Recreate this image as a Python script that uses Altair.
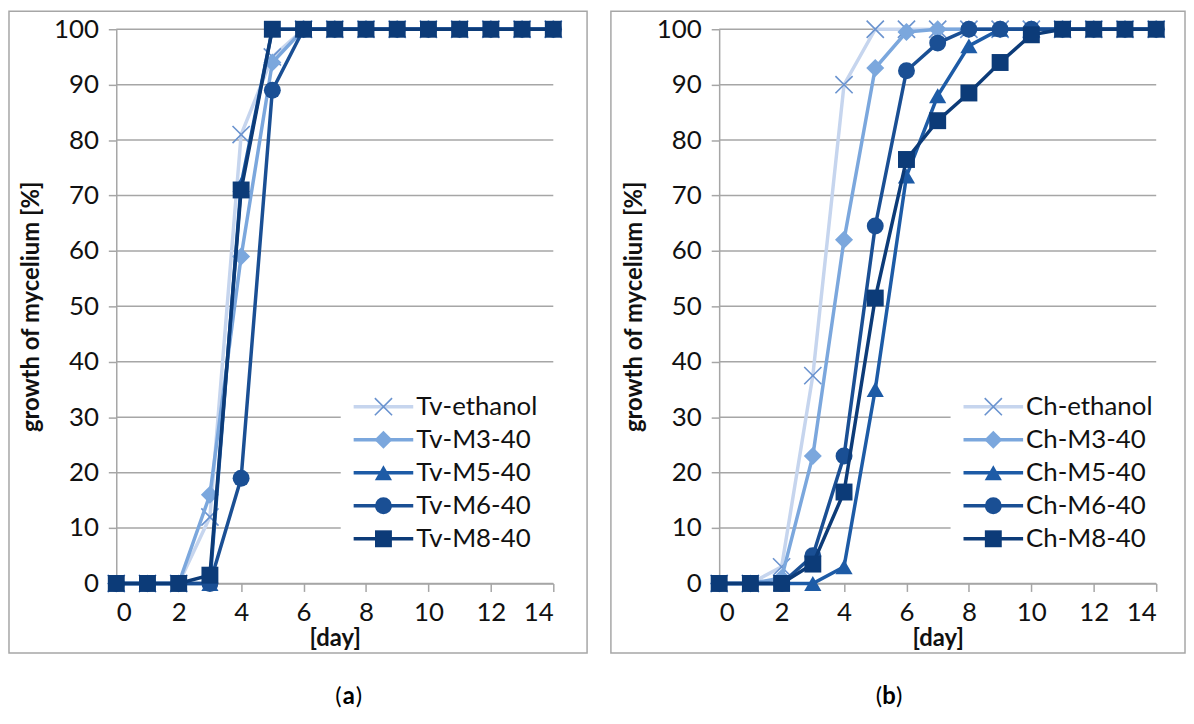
import altair as alt
import pandas as pd

days = list(range(15))

tv_names = ["Tv-ethanol", "Tv-M3-40", "Tv-M5-40", "Tv-M6-40", "Tv-M8-40"]
tv_ethanol = [0, 0, 0, 12, 81, 95, 100, 100, 100, 100, 100, 100, 100, 100, 100]
tv_m3 = [0, 0, 0, 16, 59, 94, 100, 100, 100, 100, 100, 100, 100, 100, 100]
tv_m5 = [0, 0, 0, 0, 72, 100, 100, 100, 100, 100, 100, 100, 100, 100, 100]
tv_m6 = [0, 0, 0, 0, 19, 89, 100, 100, 100, 100, 100, 100, 100, 100, 100]
tv_m8 = [0, 0, 0, 1.5, 71, 100, 100, 100, 100, 100, 100, 100, 100, 100, 100]

ch_names = ["Ch-ethanol", "Ch-M3-40", "Ch-M5-40", "Ch-M6-40", "Ch-M8-40"]
ch_ethanol = [0, 0, 3, 37.5, 90, 100, 100, 100, 100, 100, 100, 100, 100, 100, 100]
ch_m3 = [0, 0, 1, 23, 62, 93, 99.5, 100, 100, 100, 100, 100, 100, 100, 100]
ch_m5 = [0, 0, 0, 0, 3, 35, 73.5, 88, 97, 100, 100, 100, 100, 100, 100]
ch_m6 = [0, 0, 0, 5, 23, 64.5, 92.5, 97.5, 100, 100, 100, 100, 100, 100, 100]
ch_m8 = [0, 0, 0, 3.5, 16.5, 51.5, 76.5, 83.5, 88.5, 94, 99, 100, 100, 100, 100]

x_ticks = [0, 2, 4, 6, 8, 10, 12, 14]
y_ticks = [0, 10, 20, 30, 40, 50, 60, 70, 80, 90, 100]

# styles
FONT = "Lato"
GRID = "#a6a6a6"
line_colors = ["#c6d5ee", "#7ba7dd", "#1d5ba6", "#1a4f94", "#0c3b78"]
marker_colors = ["#6a93cf", "#7ba7dd", "#1d5ba6", "#1a4f94", "#0c3b78"]
CROSS = "M-1,-1L1,1M-1,1L1,-1"
shapes = [CROSS, "diamond", "triangle-up", "circle", "square"]
sizes = [300, 330, 300, 290, 290]
W, H = 440, 558
LABEL_FS = 26


def panel(names, series, leg_x, box, caption_x, caption):
    X = alt.X("day:Q", scale=alt.Scale(domain=[0, 14], nice=False, zero=False),
              axis=alt.Axis(values=x_ticks, title="[day]", grid=False))
    YS = alt.Scale(domain=[0, 100], nice=False)
    YA = alt.Axis(values=y_ticks, title="growth of mycelium [%]", grid=False)
    Y = alt.Y("value:Q", scale=YS, axis=YA)
    one = pd.DataFrame({"t": [caption]})

    data_layers = []
    for i, (name, vals) in enumerate(zip(names, series)):
        d = pd.DataFrame({"day": days, "value": vals, "series": name})
        base = alt.Chart(d)
        data_layers.append(base.mark_line(color=line_colors[i], strokeWidth=3.5).encode(x=X, y=Y))
        if i == 0:
            pts = base.mark_point(shape=shapes[i], filled=False, color=marker_colors[i],
                                  size=sizes[i], strokeWidth=1.6, opacity=1)
        else:
            pts = base.mark_point(shape=shapes[i], filled=True, color=marker_colors[i],
                                  size=sizes[i], opacity=1)
        data_layers.append(pts.encode(x=X, y=Y))

    # horizontal gridlines; those behind the legend stop at its left edge
    gdf = pd.DataFrame({"value": y_ticks})
    grid_full = alt.Chart(gdf).transform_filter(
        (alt.datum.value > 35) | (alt.datum.value < 5)).mark_rule(
        color=GRID, strokeWidth=1.5).encode(y=Y, x=alt.value(0), x2=alt.value(W))
    grid_short = alt.Chart(gdf).transform_filter(
        (alt.datum.value < 35) & (alt.datum.value > 5)).mark_rule(
        color=GRID, strokeWidth=1.5).encode(y=Y, x=alt.value(0), x2=alt.value(leg_x - 13))

    data_chart = alt.layer(grid_full, grid_short, *data_layers)

    leg_df = pd.DataFrame({"series": names})
    LY = alt.Y("series:N", scale=alt.Scale(type="point", domain=names, range=[380, 513], padding=0),
               axis=None)
    leg_layers = []
    for i, name in enumerate(names):
        b = alt.Chart(leg_df).transform_filter(alt.datum.series == name)
        leg_layers.append(b.mark_rule(color=line_colors[i], strokeWidth=3.5).encode(
            x=alt.value(leg_x), x2=alt.value(leg_x + 60), y=LY))
        if i == 0:
            p = b.mark_point(shape=shapes[i], filled=False, color=marker_colors[i],
                             size=sizes[i], strokeWidth=1.6, opacity=1)
        else:
            p = b.mark_point(shape=shapes[i], filled=True, color=marker_colors[i],
                             size=sizes[i], opacity=1)
        leg_layers.append(p.encode(x=alt.value(leg_x + 30), y=LY))
        leg_layers.append(b.mark_text(align="left", baseline="middle", font=FONT, fontSize=LABEL_FS,
                                      color="#111111").encode(
            x=alt.value(leg_x + 63), y=LY, text="series:N"))
    leg_chart = alt.layer(*leg_layers)

    border = alt.Chart(one).mark_rect(fillOpacity=0, stroke="#a6a6a6", strokeWidth=1.5).encode(
        x=alt.value(box[0]), x2=alt.value(box[1]), y=alt.value(box[2]), y2=alt.value(box[3]))
    cap_y = box[3] + 44
    cap_a = alt.Chart(one).mark_text(font=FONT, fontSize=24, fontWeight="bold", color="#000000",
                                     align="center", baseline="middle").encode(
        x=alt.value(caption_x), y=alt.value(cap_y), text="t:N")
    cap_l = alt.Chart(one).mark_text(font=FONT, fontSize=24, color="#000000",
                                     align="right", baseline="middle", text="(").encode(
        x=alt.value(caption_x - 7), y=alt.value(cap_y))
    cap_r = alt.Chart(one).mark_text(font=FONT, fontSize=24, color="#000000",
                                     align="left", baseline="middle", text=")").encode(
        x=alt.value(caption_x + 7), y=alt.value(cap_y))

    return alt.layer(border, data_chart, leg_chart, cap_l, cap_a, cap_r).resolve_scale(
        y="independent").properties(width=W, height=H)


left = panel(tv_names, [tv_ethanol, tv_m3, tv_m5, tv_m6, tv_m8], 239,
             (-108, 474, -18, 628), 234, "a")
right = panel(ch_names, [ch_ethanol, ch_m3, ch_m5, ch_m6, ch_m8], 246,
              (-109, 469, -18, 628), 171, "b")

chart = alt.hconcat(left, right, spacing=22).properties(padding=0).configure_view(
    stroke=None).configure_axis(
    labelFont=FONT, labelFontSize=LABEL_FS, labelColor="#111111",
    titleFont=FONT, titleFontSize=24, titleFontWeight="bold", titleColor="#111111",
    domainColor=GRID, domainWidth=1.5, tickColor=GRID, tickWidth=1.5, tickSize=8,
    labelPadding=10,
).configure_axisY(titlePadding=10).configure_axisX(titlePadding=1, labelPadding=8)

chart.save("out.html", embed_options={"renderer": "svg", "actions": False})
